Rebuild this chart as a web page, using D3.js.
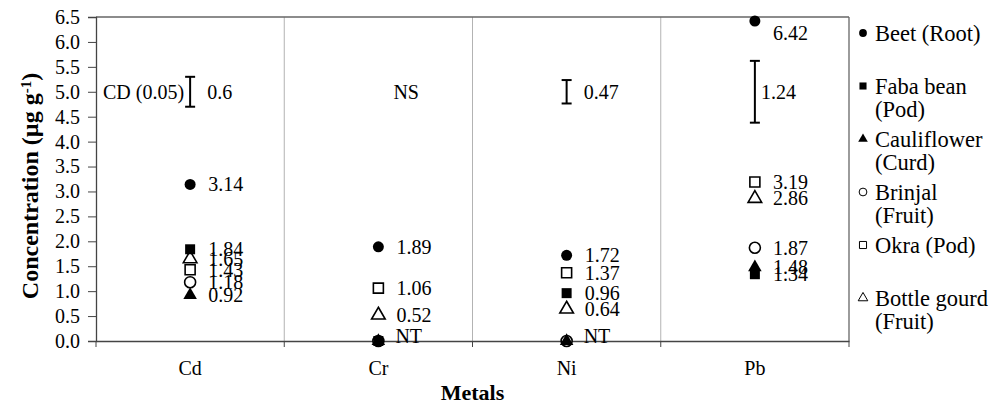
<!DOCTYPE html>
<html>
<head>
<meta charset="utf-8">
<script src="https://cdn.jsdelivr.net/npm/d3@7"></script>
<style>
  body { margin: 0; background: #fff; }
</style>
</head>
<body>
<div id="chart"></div>
<script>
// categories
var metals = ["Cd", "Cr", "Ni", "Pb"];

// series values (0 = not traceable)
var beet = [3.14, 1.89, 1.72, 6.42];
var faba = [1.84, 0, 0.96, 1.34];
var cauli = [0.92, 0, 0, 1.48];
var brinjal = [1.18, 0, 0, 1.87];
var okra = [1.43, 1.06, 1.37, 3.19];
var gourd = [1.65, 0.52, 0.64, 2.86];

// legend text, one entry per series (lines)
var seriesNames = [["Beet (Root)"], ["Faba bean", "(Pod)"], ["Cauliflower", "(Curd)"],
                   ["Brinjal", "(Fruit)"], ["Okra (Pod)"], ["Bottle gourd", "(Fruit)"]];
var seriesShapes = ["circle", "square", "triangle", "circle", "square", "triangle"];
var seriesFilled = [true, true, true, false, false, false];

// CD (0.05) values
var cdValues = [0.6, null, 0.47, 1.24];
var cdLabels = ["0.6", "NS", "0.47", "1.24"];
var ntLabels = ["", "NT", "NT", ""];
var cdCenter = 5.0;

var yTicks = [0, 0.5, 1, 1.5, 2, 2.5, 3, 3.5, 4, 4.5, 5, 5.5, 6, 6.5];

var allSeries = [beet, faba, cauli, brinjal, okra, gourd];

var SERIF = "'Liberation Serif', 'Times New Roman', serif";
var W = 1001, H = 406;
var margin = { top: 17, right: 152, bottom: 65, left: 96 };

var svg = d3.select("#chart").append("svg")
    .attr("width", W)
    .attr("height", H)
    .style("font-family", SERIF);

var x = d3.scaleBand()
    .domain(metals)
    .range([margin.left, W - margin.right]);

var y = d3.scaleLinear()
    .domain([0, 6.5])
    .range([H - margin.bottom, margin.top]);

var symbolType = { circle: d3.symbolCircle, square: d3.symbolSquare, triangle: d3.symbolTriangle };
var symbolSize = { circle: 95, square: 100, triangle: 80 };

function cx(i) { return x(metals[i]) + x.bandwidth() / 2; }

function label(sel) {
    return sel.style("font-family", SERIF).style("font-size", "20px").attr("fill", "#000");
}

// vertical separators between categories
svg.selectAll("line.sep")
    .data(metals.slice(1))
    .enter().append("line")
    .attr("class", "sep")
    .attr("x1", function(d) { return x(d); })
    .attr("x2", function(d) { return x(d); })
    .attr("y1", y(6.5))
    .attr("y2", y(0))
    .attr("stroke", "#b3b3b3")
    .attr("stroke-width", 1);

// frame top and right
svg.append("line")
    .attr("x1", x.range()[0]).attr("x2", x.range()[1])
    .attr("y1", y(6.5)).attr("y2", y(6.5))
    .attr("stroke", "#666").attr("stroke-width", 1.3);
svg.append("line")
    .attr("x1", x.range()[1]).attr("x2", x.range()[1])
    .attr("y1", y(6.5)).attr("y2", y(0))
    .attr("stroke", "#666").attr("stroke-width", 1.3);

// y axis
var yAxis = svg.append("g")
    .attr("transform", "translate(" + margin.left + ",0)")
    .call(d3.axisLeft(y).tickValues(yTicks).tickFormat(d3.format(".1f")).tickSize(8).tickPadding(8));
yAxis.select(".domain").attr("stroke", "#444").attr("stroke-width", 1.3);
yAxis.selectAll(".tick line").attr("stroke", "#444");
label(yAxis.selectAll("text"));

// x axis
var xAxis = svg.append("g")
    .attr("transform", "translate(0," + y(0) + ")")
    .call(d3.axisBottom(x).tickSize(0).tickPadding(20));
xAxis.select(".domain").attr("stroke", "#444").attr("stroke-width", 1.3);
label(xAxis.selectAll("text"));

// tick marks at category boundaries
var bounds = metals.map(function(d) { return x(d); }).concat([x.range()[1]]);
svg.selectAll("line.xtick")
    .data(bounds)
    .enter().append("line")
    .attr("class", "xtick")
    .attr("x1", function(d) { return d; })
    .attr("x2", function(d) { return d; })
    .attr("y1", y(0))
    .attr("y2", y(0) + 6)
    .attr("stroke", "#444");

// axis titles
var yTitle = svg.append("text")
    .attr("transform", "translate(38," + ((y(0) + y(6.5)) / 2 + 7) + ") rotate(-90)")
    .attr("text-anchor", "middle")
    .style("font-family", SERIF)
    .style("font-size", "24px")
    .style("font-weight", "bold");
yTitle.append("tspan").text("Concentration (µg g");
yTitle.append("tspan").attr("dy", "-0.5em").style("font-size", "15px").text("-1");
yTitle.append("tspan").attr("dy", "0.33em").text(")");

svg.append("text")
    .attr("x", (x.range()[0] + x.range()[1]) / 2)
    .attr("y", 400)
    .attr("text-anchor", "middle")
    .style("font-family", SERIF)
    .style("font-size", "22px")
    .style("font-weight", "bold")
    .text("Metals");

// CD error bars
metals.forEach(function(m, i) {
    if (cdValues[i] != null) {
        var top = y(cdCenter + cdValues[i] / 2), bot = y(cdCenter - cdValues[i] / 2);
        var g = svg.append("g").attr("stroke", "#000").attr("stroke-width", 2);
        g.append("line").attr("x1", cx(i)).attr("x2", cx(i)).attr("y1", top).attr("y2", bot);
        g.append("line").attr("x1", cx(i) - 5).attr("x2", cx(i) + 5).attr("y1", top).attr("y2", top);
        g.append("line").attr("x1", cx(i) - 5).attr("x2", cx(i) + 5).attr("y1", bot).attr("y2", bot);
    }
    label(svg.append("text"))
        .attr("x", cx(i) + (i == 3 ? 6 : (i == 1 ? 15 : 17)))
        .attr("y", y(cdCenter))
        .attr("dy", "0.35em")
        .text(cdLabels[i]);
});

label(svg.append("text"))
    .attr("x", cx(0) - 6)
    .attr("y", y(cdCenter))
    .attr("dy", "0.35em")
    .attr("text-anchor", "end")
    .text("CD (0.05)");

// markers, drawn last series first so earlier ones sit on top
for (var s = allSeries.length - 1; s >= 0; s--) {
    var shape = seriesShapes[s];
    svg.selectAll("path.s" + s)
        .data(allSeries[s])
        .enter().append("path")
        .attr("class", "s" + s)
        .attr("d", d3.symbol().type(symbolType[shape]).size(symbolSize[shape]))
        .attr("transform", function(d, i) {
            return "translate(" + cx(i) + "," + y(d) + ")";
        })
        .attr("fill", seriesFilled[s] ? "#000" : "#fff")
        .attr("stroke", "#000")
        .attr("stroke-width", seriesFilled[s] ? 0 : 1.6);
}

// value labels (zeros get the shared NT label instead)
allSeries.forEach(function(vals, s) {
    label(svg.selectAll("text.v" + s)
        .data(vals)
        .enter().append("text")
        .attr("class", "v" + s))
        .attr("x", function(d, i) { return cx(i) + 18; })
        .attr("y", function(d) { return y(d) + (d > 6.2 ? 12 : 0); })
        .attr("dy", "0.35em")
        .text(function(d) { return d > 0 ? d.toFixed(2) : ""; });
});

label(svg.selectAll("text.nt")
    .data(ntLabels)
    .enter().append("text")
    .attr("class", "nt"))
    .attr("x", function(d, i) { return cx(i) + 17; })
    .attr("y", y(0) - 5)
    .attr("dy", "0.35em")
    .text(function(d) { return d; });

// legend
var ly = d3.scaleLinear().domain([0, seriesNames.length - 1]).range([33, 298]);
var lx = 863;
seriesNames.forEach(function(lines, s) {
    var shape = seriesShapes[s];
    svg.append("path")
        .attr("d", d3.symbol().type(symbolType[shape]).size(symbolSize[shape] * 0.5))
        .attr("transform", "translate(" + lx + "," + ly(s) + ")")
        .attr("fill", seriesFilled[s] ? "#000" : "#fff")
        .attr("stroke", "#000")
        .attr("stroke-width", seriesFilled[s] ? 0 : 1);
    var t = label(svg.append("text"))
        .style("font-size", "22.5px")
        .attr("y", ly(s));
    lines.forEach(function(line, k) {
        t.append("tspan")
            .attr("x", lx + 12)
            .attr("dy", k == 0 ? "0.35em" : "1.03em")
            .text(line);
    });
});
</script>
</body>
</html>
